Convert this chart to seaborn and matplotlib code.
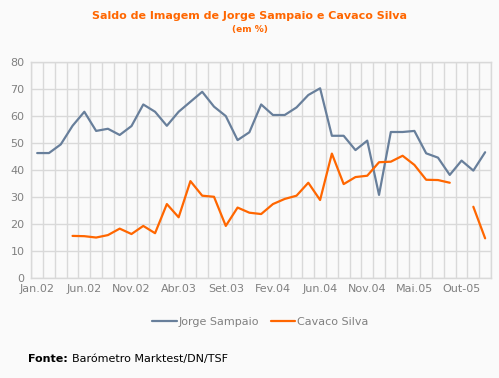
import numpy as np
import pandas as pd
import matplotlib
matplotlib.use("Agg")
import matplotlib.pyplot as plt
import seaborn as sns

# Inquéritos (categorias), etiquetas mostradas de 4 em 4
n_cat = 39
tick_labels = ["Jan.02", "Jun.02", "Nov.02", "Abr.03", "Set.03",
               "Fev.04", "Jun.04", "Nov.04", "Mai.05", "Out-05"]

sampaio = [46.4, 46.4, 49.6, 56.5, 61.7, 54.6, 55.4, 53.1, 56.4, 64.4,
           61.7, 56.5, 61.7, 65.4, 69.1, 63.6, 60.1, 51.2, 54.1, 64.4,
           60.5, 60.5, 63.3, 67.9, 70.4, 52.8, 52.8, 47.5, 51.0, 30.9,
           54.2, 54.2, 54.6, 46.3, 44.7, 38.3, 43.6, 39.9, 46.7]

cavaco = [np.nan, np.nan, np.nan, 15.7, 15.6, 15.1, 16.0, 18.4, 16.4, 19.4,
          16.7, 27.5, 22.6, 36.0, 30.6, 30.2, 19.4, 26.2, 24.3, 23.8,
          27.5, 29.4, 30.6, 35.4, 29.0, 46.2, 34.9, 37.5, 38.0, 43.0,
          43.2, 45.4, 42.0, 36.5, 36.4, 35.4, np.nan, 26.5, 14.8]

series_names = ["Jorge Sampaio", "Cavaco Silva"]
colors = ["#687f9b", "#ff6600"]

# tabela longa; "seg" separa os troços para manter a falha nos dados
rows = []
for name, vals in zip(series_names, [sampaio, cavaco]):
    seg = 0
    for i, v in enumerate(vals):
        if np.isnan(v):
            seg += 1
            continue
        rows.append({"x": i, "valor": v, "serie": name, "seg": f"{name}-{seg}"})
df = pd.DataFrame(rows)

sns.set_style("white")
plt.rcParams["font.family"] = ["DejaVu Sans"]

bg = "#fafafa"
grid_c = "#d9d9d9"
txt_c = "#808080"

fig = plt.figure(figsize=(4.99, 3.78), dpi=100, facecolor=bg)
ax = fig.add_axes([0.0627, 0.2638, 0.9213, 0.5712])
ax.set_facecolor(bg)

sns.lineplot(data=df, x="x", y="valor", hue="serie", units="seg", estimator=None,
             hue_order=series_names, palette=colors, linewidth=1.6, ax=ax)

ax.set_xlim(-0.5, n_cat - 0.5)
ax.set_ylim(0, 80)
ax.set_yticks(range(0, 81, 10))
ax.set_xticks(np.arange(-0.5, n_cat, 1), minor=True)
ax.set_xticks(np.arange(0, n_cat, 4))
ax.set_xticklabels(tick_labels)
ax.grid(True, axis="y", color=grid_c, linewidth=1)
ax.grid(True, axis="x", which="minor", color=grid_c, linewidth=1)
ax.set_axisbelow(True)
for s in ax.spines.values():
    s.set_color(grid_c)
    s.set_linewidth(1)
ax.tick_params(axis="y", length=3, color=grid_c, labelcolor=txt_c, labelsize=8, pad=2)
ax.tick_params(axis="x", which="major", length=0, labelcolor=txt_c, labelsize=8, pad=4)
ax.tick_params(axis="x", which="minor", length=3, color=grid_c)
ax.set_xlabel("")
ax.set_ylabel("")

ax.legend_.remove()
handles = [plt.Line2D([], [], color=c, linewidth=1.6) for c in colors]
leg = fig.legend(handles, series_names, loc="center", bbox_to_anchor=(0.522, 0.148),
                 ncol=2, frameon=False, fontsize=8, handlelength=2.2,
                 handletextpad=0.2, columnspacing=1.0)
for t in leg.get_texts():
    t.set_color(txt_c)

fig.text(0.5, 0.958, "Saldo de Imagem de Jorge Sampaio e Cavaco Silva",
         ha="center", va="center", color="#ff6600", fontsize=8, fontweight="bold")
fig.text(0.5, 0.922, "(em %)", ha="center", va="center", color="#ff6600",
         fontsize=6.5, fontweight="bold")

# rodapé: "Fonte:" a negrito seguido do resto, posto logo a seguir
fonte = fig.text(0.056, 0.05, "Fonte:", ha="left", va="center", fontsize=8,
                 fontweight="bold", color="black")
renderer = fig.canvas.get_renderer()
bb = fonte.get_window_extent(renderer=renderer)
x_next = (bb.x1 + 4) / fig.bbox.width
fig.text(x_next, 0.05, "Barómetro Marktest/DN/TSF", ha="left", va="center",
         fontsize=8, color="black")

fig.savefig("out.png", dpi=100, facecolor=bg)
